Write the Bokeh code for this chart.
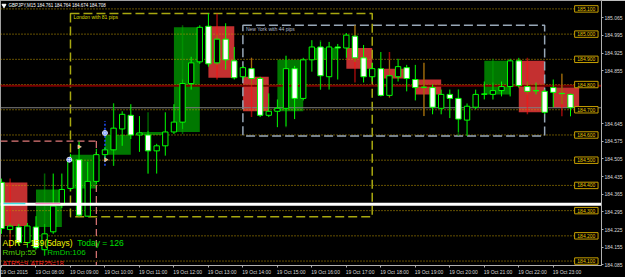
from bokeh.plotting import figure
from bokeh.models import Range1d, FixedTicker, NumeralTickFormatter, Label, ColumnDataSource
from bokeh.embed import file_html
from bokeh.resources import INLINE
from bokeh.core.properties import value

FONT = "Liberation Sans"

# ---------------- data ----------------
symbol = "GBPJPY,M15"
hour_labels = ["19 Oct 2015", "19 Oct 08:00", "19 Oct 09:00", "19 Oct 10:00", "19 Oct 11:00",
               "19 Oct 12:00", "19 Oct 13:00", "19 Oct 14:00", "19 Oct 15:00", "19 Oct 16:00",
               "19 Oct 17:00", "19 Oct 18:00", "19 Oct 19:00", "19 Oct 20:00", "19 Oct 21:00",
               "19 Oct 22:00", "19 Oct 23:00"]
bars_per_hour = 4

opens = [184.412, 184.225, 184.235, 184.173, 184.235, 184.145, 184.216, 184.322,
         184.388, 184.502, 184.278, 184.416, 184.522, 184.541, 184.624, 184.678,
         184.600, 184.600, 184.537, 184.557, 184.612, 184.651, 184.804, 184.890,
         185.031, 184.886, 184.980, 184.894, 184.831, 184.863, 184.824, 184.678,
         184.694, 184.706, 184.863, 184.745, 184.898, 184.949, 184.831, 184.949,
         184.945, 184.992, 184.906, 184.831, 184.863, 184.757, 184.831, 184.867,
         184.820, 184.788, 184.788, 184.706, 184.761, 184.745, 184.659, 184.710,
         184.761, 184.761, 184.776, 184.792, 184.894, 184.792, 184.776, 184.773,
         184.788, 184.765, 184.761]
highs = [184.427, 184.251, 184.247, 184.251, 184.278, 184.247, 184.447, 184.447,
         184.525, 184.573, 184.494, 184.545, 184.553, 184.725, 184.694, 184.722,
         184.675, 184.616, 184.565, 184.690, 184.722, 184.820, 184.910, 185.035,
         185.082, 184.996, 185.043, 184.949, 184.874, 184.906, 184.831, 184.765,
         184.741, 184.914, 184.874, 184.906, 184.976, 184.969, 184.969, 184.961,
         185.004, 185.035, 184.957, 184.886, 184.929, 184.898, 184.902, 184.878,
         184.878, 184.886, 184.800, 184.780, 184.780, 184.780, 184.725, 184.780,
         184.812, 184.808, 184.812, 184.902, 184.906, 184.812, 184.808, 184.780,
         184.820, 184.843, 184.764]
lows = [184.208, 184.208, 184.161, 184.153, 184.145, 184.122, 184.208, 184.310,
        184.380, 184.278, 184.276, 184.404, 184.506, 184.478, 184.557, 184.584,
        184.533, 184.447, 184.447, 184.518, 184.604, 184.624, 184.780, 184.882,
        184.871, 184.878, 184.859, 184.820, 184.820, 184.800, 184.671, 184.671,
        184.631, 184.635, 184.663, 184.737, 184.851, 184.780, 184.780, 184.820,
        184.906, 184.890, 184.808, 184.812, 184.753, 184.749, 184.812, 184.773,
        184.737, 184.675, 184.682, 184.682, 184.667, 184.612, 184.596, 184.702,
        184.741, 184.741, 184.753, 184.753, 184.788, 184.761, 184.761, 184.682,
        184.710, 184.722, 184.674]
closes = [184.229, 184.239, 184.173, 184.239, 184.153, 184.208, 184.318, 184.384,
          184.498, 184.282, 184.416, 184.522, 184.541, 184.627, 184.682, 184.600,
          184.608, 184.537, 184.557, 184.612, 184.651, 184.804, 184.886, 185.027,
          184.882, 184.980, 184.898, 184.827, 184.867, 184.824, 184.678, 184.694,
          184.706, 184.863, 184.745, 184.898, 184.949, 184.835, 184.949, 184.945,
          184.996, 184.906, 184.831, 184.863, 184.757, 184.835, 184.871, 184.824,
          184.788, 184.790, 184.710, 184.761, 184.745, 184.663, 184.714, 184.761,
          184.763, 184.776, 184.792, 184.894, 184.796, 184.773, 184.775, 184.690,
          184.769, 184.764, 184.708]

price_ticks = [185.065, 184.995, 184.925, 184.855, 184.645, 184.575, 184.505,
               184.435, 184.365, 184.295, 184.225, 184.155, 184.085]
round_levels = [185.100, 185.000, 184.900, 184.800, 184.700, 184.600,
                184.500, 184.400, 184.300, 184.200, 184.100]

session_texts = ["London with 81 pips", "New York with 44 pips"]
session_first_bar = [8, 28]
session_last_bar = [43, 63]
session_colors = ["#a8a810", "#98a8b8"]
session_text_colors = ["#dcdc00", "#b0bcc8"]

pivot_level = 184.795        # dark red line with red price tag
white_level = 184.325        # thick white line
day_open_level = 184.576     # pink dashed line
day_open_bar = 11
signal_bars = [7.86, 12.0]
signal_prices = [184.502, 184.608]
signal_line_bar = 12
signal_line_top = 184.655
signal_line_bottom = 184.478

adr_text = "ADR = 159(5days)"
today_text = "Today = 126"
rm_up_text = "RmUp:55"
rm_dn_text = "RmDn:106"
atr5_text = "ATR5=9"
atr25_text = "ATR25=18"

# ---------------- geometry ----------------
W, H = 625, 277
FRAME_W, FRAME_H = 603, 268
x_start, x_end = -0.1156, 69.595
y_start, y_end = 184.0824, 185.1333
BAR_PX = FRAME_W / (x_end - x_start)
PRICE_PX = FRAME_H / (y_end - y_start)


def xpx(px):
    return x_start + px / BAR_PX


def ypx(py):
    return y_end - py / PRICE_PX


n = len(opens)
bars = list(range(n))

p = figure(width=W, height=H, output_backend="svg", toolbar_location=None,
           x_range=Range1d(x_start, x_end), y_range=Range1d(y_start, y_end),
           y_axis_location="right", min_border_left=0, min_border_top=0,
           min_border_right=W - FRAME_W, min_border_bottom=H - FRAME_H)
p.background_fill_color = "black"
p.border_fill_color = "black"
p.outline_line_color = "#a0a0a0"
p.xgrid.visible = False
p.ygrid.visible = False

# ---- axes ----
ya = p.yaxis[0]
ya.ticker = FixedTicker(ticks=price_ticks)
ya.formatter = NumeralTickFormatter(format="0.000")
ya.major_label_text_font = FONT
ya.major_label_text_font_size = "5px"
ya.major_label_text_color = "#d8d8d8"
ya.major_tick_out = 2
ya.major_tick_in = 0
ya.minor_tick_out = 0
ya.minor_tick_in = 0
ya.major_label_standoff = 1
ya.axis_line_color = "#b0b0b0"
ya.major_tick_line_color = "#b0b0b0"

hour_pos = [k * bars_per_hour for k in range(len(hour_labels))]
label_centers = []
for k, lbl in enumerate(hour_labels):
    off_px = 12.7 if k == 0 else 13.8
    label_centers.append(round(hour_pos[k] + off_px / BAR_PX, 3))
xa = p.xaxis[0]
xa.ticker = FixedTicker(ticks=label_centers, minor_ticks=hour_pos)
xa.major_label_overrides = {c: l for c, l in zip(label_centers, hour_labels)}
xa.major_label_text_font = FONT
xa.major_label_text_font_size = "5px"
xa.major_label_text_color = "#d8d8d8"
xa.major_tick_out = 0
xa.major_tick_in = 0
xa.minor_tick_out = 2
xa.minor_tick_in = 0
xa.minor_tick_line_color = "#b0b0b0"
xa.major_label_standoff = 1
xa.axis_line_color = "#b0b0b0"

# ---- hourly boxes ----
hb = dict(left=[], right=[], top=[], bottom=[], color=[], lx=[], lh=[], ll=[], lcolor=[])
for h0 in range(0, n, bars_per_hour):
    seg = list(range(h0, min(h0 + bars_per_hour, n)))
    ho, hc = opens[h0], closes[seg[-1]]
    up = hc >= ho
    hb["left"].append(h0)
    hb["right"].append(h0 + bars_per_hour - 1)
    hb["top"].append(max(ho, hc))
    hb["bottom"].append(min(ho, hc))
    hb["color"].append("#007800" if up else "#c43030")
    hb["lx"].append(h0 + 1)
    hb["lh"].append(max(highs[i] for i in seg))
    hb["ll"].append(min(lows[i] for i in seg))
    hb["lcolor"].append("#00a000" if up else "#ff1010")
hsrc = ColumnDataSource(hb)
p.quad(left="left", right="right", top="top", bottom="bottom", fill_color="color",
       line_color=None, source=hsrc)

# ---- round levels ----
p.segment(x0=[xpx(0)] * len(round_levels), x1=[xpx(576)] * len(round_levels),
          y0=round_levels, y1=round_levels, line_color="#c8a000", line_width=1,
          line_dash="1 2")

# ---- session boxes ----
for k in range(len(session_texts)):
    a, b = session_first_bar[k], session_last_bar[k]
    s_hi = max(highs[a:b + 1])
    s_lo = min(lows[a:b + 1])
    p.quad(left=[a], right=[b], top=[s_hi], bottom=[s_lo], fill_alpha=0,
           line_color=session_colors[k], line_width=1.5, line_dash="9 4")
    p.text(x=[a + 3 / BAR_PX], y=[s_hi - 3.5 / PRICE_PX], text=[session_texts[k]],
           text_font=value(FONT), text_font_size="5px", text_color=session_text_colors[k],
           text_baseline="middle", text_align="left")

# ---- pink day-open lines ----
p.segment(x0=[xpx(0)], x1=[day_open_bar], y0=[day_open_level], y1=[day_open_level],
          line_color="#e07878", line_width=1.2, line_dash="7 4")
p.segment(x0=[day_open_bar], x1=[day_open_bar], y0=[day_open_level], y1=[y_start],
          line_color="#e07878", line_width=1.2, line_dash="7 4")

# ---- blue signal line ----
p.segment(x0=[signal_line_bar], x1=[signal_line_bar], y0=[signal_line_bottom],
          y1=[signal_line_top], line_color="#2050ff", line_width=1.5, line_dash="2 2")

# ---- pivot line and bid line ----
bid = closes[-1]
p.segment(x0=[x_start], x1=[x_end], y0=[pivot_level], y1=[pivot_level],
          line_color="#7a0000", line_width=2)
p.segment(x0=[x_start], x1=[x_end], y0=[bid], y1=[bid], line_color="#808080", line_width=1)

# ---- candles ----
eps = 0.0006
csrc = ColumnDataSource(dict(
    x=bars, o=opens, h=highs, l=lows, c=closes,
    top=[max(o, c) + (eps if abs(o - c) < eps else 0) for o, c in zip(opens, closes)],
    bottom=[min(o, c) for o, c in zip(opens, closes)],
    fill=["black" if c > o else "white" for o, c in zip(opens, closes)]))
p.segment(x0="x", y0="l", x1="x", y1="h", line_color="#00ff00", line_width=1, source=csrc)
p.segment(x0="lx", y0="ll", x1="lx", y1="lh", line_color="lcolor", line_width=1.5,
          line_alpha=0.6, source=hsrc)
p.vbar(x="x", width=0.62, top="top", bottom="bottom", fill_color="fill",
       line_color="#00ff00", line_width=1, source=csrc)

# ---- white line with markers ----
p.segment(x0=[x_start], x1=[x_end], y0=[white_level], y1=[white_level],
          line_color="white", line_width=3)
p.segment(x0=[xpx(3), xpx(35)], x1=[xpx(25), xpx(60)],
          y0=[white_level + 0.8 / PRICE_PX] * 2, y1=[white_level + 0.8 / PRICE_PX] * 2,
          line_color=["#40e0e0", "#ff90c8"], line_width=1.5)

# ---- signal markers ----
p.scatter(x=signal_bars, y=signal_prices, marker="circle_cross", size=5,
          fill_color="#3060ff", line_color="white", line_width=0.8)
p.scatter(x=[9.0, 12.1], y=[184.553, 184.502], marker="triangle", size=4,
          fill_color="#ffb040", line_color="white", line_width=0.5, angle=-1.57)

# ---- round level tags ----
lsrc = ColumnDataSource(dict(y=round_levels, t=[f"{v:.3f}" for v in round_levels]))
p.rect(x=xpx(587.8), y="y", width=23.5 / BAR_PX, height=6.5 / PRICE_PX, fill_color="black",
       line_color="#c8a000", line_width=1, source=lsrc)
p.text(x=xpx(587.8), y="y", text="t", text_font=value(FONT), text_font_size="5px",
       text_color="#e8c400", text_align="center", text_baseline="middle", source=lsrc)

# ---- info texts ----
p.text(x=[xpx(2)], y=[ypx(245)], text=[adr_text], text_font=value(FONT),
       text_font_size="8.5px", text_color="#f0f000", text_baseline="alphabetic")
p.text(x=[xpx(77)], y=[ypx(245)], text=[today_text], text_font=value(FONT),
       text_font_size="8.5px", text_color="#00e000", text_baseline="alphabetic")
p.text(x=[xpx(2)], y=[ypx(255)], text=[rm_up_text], text_font=value(FONT),
       text_font_size="8px", text_color="#50d000", text_baseline="alphabetic")
p.text(x=[xpx(47)], y=[ypx(255)], text=[rm_dn_text], text_font=value(FONT),
       text_font_size="8px", text_color="#00d000", text_baseline="alphabetic")
p.text(x=[xpx(2), xpx(30)], y=[ypx(265.5)] * 2, text=[atr5_text, atr25_text],
       text_font=value(FONT), text_font_size="7px", text_color="#ff2020",
       text_baseline="alphabetic")

# ---- title ----
title = f"{symbol}  {opens[-1]:.3f} {highs[-1]:.3f} {lows[-1]:.3f} {closes[-1]:.3f}"
p.scatter(x=[xpx(3.5)], y=[ypx(5)], marker="inverted_triangle", size=4,
          fill_color="white", line_color="white")
p.text(x=[xpx(8)], y=[ypx(5)], text=[title], text_font=value(FONT), text_font_size="4.5px",
       text_color="white", text_baseline="middle")

# ---- price tags on the axis ----
p.add_layout(Label(x=FRAME_W, y=pivot_level, x_units="screen", y_units="data",
                   text=f"{pivot_level:.3f}", text_font=FONT, text_font_size="5px",
                   text_color="#7a0000", text_baseline="middle", text_align="left",
                   background_fill_color="#ff0000", padding=1))
p.add_layout(Label(x=FRAME_W, y=bid, x_units="screen", y_units="data",
                   text=f"{bid:.3f}", text_font=FONT, text_font_size="5px",
                   text_color="black", text_baseline="middle", text_align="left",
                   background_fill_color="white", padding=1))

open("out.html", "w").write(file_html(p, INLINE))
